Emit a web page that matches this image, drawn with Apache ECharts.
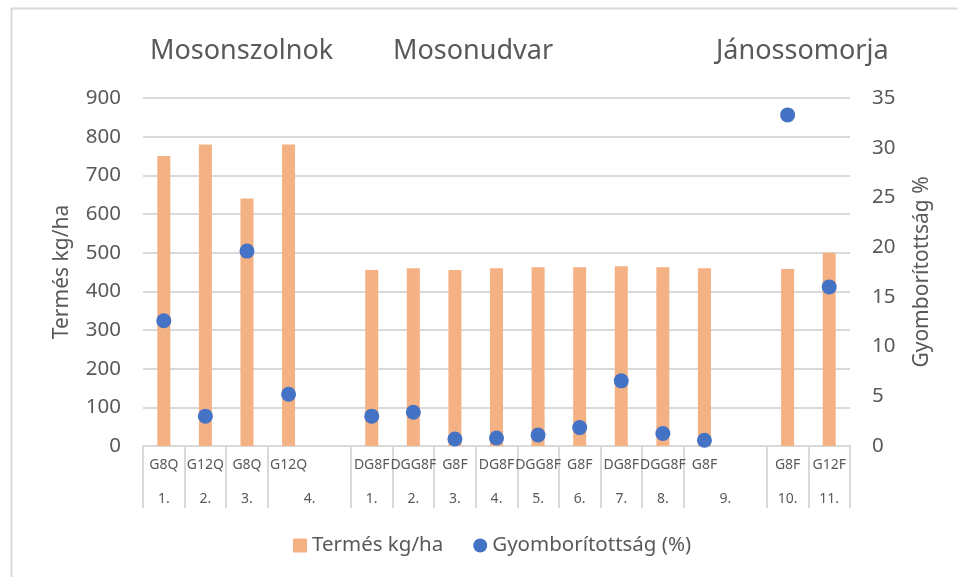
<!DOCTYPE html>
<html>
<head>
<meta charset="utf-8">
<script src="https://cdn.jsdelivr.net/npm/echarts@6/dist/echarts.min.js"></script>
<style>html,body{margin:0;padding:0;background:#fff}#c{width:958px;height:577px}</style>
</head>
<body>
<div id="c"></div>
<script>
const innerLabels = ['G8Q','G12Q','G8Q','G12Q','','DG8F','DGG8F','G8F','DG8F','DGG8F','G8F','DG8F','DGG8F','G8F','','G8F','G12F'];
const outerLabels = ['1.','2.','3.','4.','','1.','2.','3.','4.','5.','6.','7.','8.','9.','','10.','11.'];
const yieldValues = [750,780,640,780,null,455,460,455,460,462,462,465,462,460,null,458,500];
const weedValues = [12.6,3.0,19.6,5.2,null,3.0,3.4,0.7,0.8,1.1,1.85,6.55,1.25,0.58,null,33.3,16.0];
const regions = ['Mosonszolnok','Mosonudvar','Jánossomorja'];
const regionLeft = [150, 393, 716];
const spanningOuter = [3, 13];

const FONT = 'Noto Sans';
const GREY = '#595959';
const LINE = '#d9d9d9';

const chart = echarts.init(document.getElementById('c'), null, {renderer: 'canvas'});
chart.setOption({
  animation: false,
  textStyle: {fontFamily: FONT, color: GREY},
  graphic: [{type: 'rect', left: 9, top: 6, shape: {width: 960, height: 580}, style: {fill: 'none', stroke: LINE, lineWidth: 2}}],
  title: regions.map((r, i) => ({text: r, left: regionLeft[i], top: 38, padding: 0,
    textStyle: {fontFamily: FONT, fontSize: 27, fontWeight: 'normal', color: GREY}})),
  legend: {
    bottom: 16, left: 288, itemGap: 30, itemWidth: 14, itemHeight: 14,
    textStyle: {fontFamily: FONT, fontSize: 20.5, color: GREY},
    data: [{name: 'Termés kg/ha', icon: 'rect'}, {name: 'Gyomborítottság (%)', icon: 'circle'}]
  },
  grid: {left: 143, right: 108, top: 98, bottom: 131},
  xAxis: [{
    type: 'category', data: innerLabels, boundaryGap: true,
    axisLine: {show: true, lineStyle: {color: LINE, width: 2}},
    axisTick: {show: true, length: 62, lineStyle: {color: LINE, width: 2},
      interval: (idx) => innerLabels[idx] !== ''},
    axisLabel: {interval: 0, margin: 12, fontSize: 14, color: GREY, fontFamily: FONT, hideOverlap: false},
    splitLine: {show: false}
  }, {
    type: 'category', data: outerLabels, position: 'bottom', offset: 34, boundaryGap: true,
    axisLine: {show: false}, axisTick: {show: false}, splitLine: {show: false},
    axisLabel: {interval: 0, margin: 12, fontSize: 14, color: GREY, fontFamily: FONT, hideOverlap: false,
      formatter: (v, i) => spanningOuter.includes(i) ? '{s|' + v + '}' : v,
      rich: {s: {padding: [0, 0, 0, 42], fontSize: 14, color: GREY, fontFamily: FONT}}}
  }],
  yAxis: [{
    type: 'value', min: 0, max: 900, interval: 100,
    name: 'Termés kg/ha', nameLocation: 'middle', nameRotate: 90, nameGap: 70,
    nameTextStyle: {fontSize: 21, color: GREY, fontFamily: FONT},
    axisLine: {show: false}, axisTick: {show: false},
    axisLabel: {fontSize: 20.5, color: GREY, margin: 22, fontFamily: FONT},
    splitLine: {lineStyle: {color: LINE, width: 2}}
  }, {
    type: 'value', min: 0, max: 35, interval: 5, position: 'right',
    name: 'Gyomborítottság %', nameLocation: 'middle', nameRotate: 90, nameGap: 62,
    nameTextStyle: {fontSize: 21, color: GREY, fontFamily: FONT},
    axisLine: {show: false}, axisTick: {show: false},
    axisLabel: {fontSize: 20.5, color: GREY, margin: 22, fontFamily: FONT},
    splitLine: {show: false}
  }],
  series: [{
    name: 'Termés kg/ha', type: 'bar', xAxisIndex: 0, yAxisIndex: 0,
    data: yieldValues, barWidth: 13, itemStyle: {color: '#F4B183'}
  }, {
    name: 'Gyomborítottság (%)', type: 'scatter', xAxisIndex: 0, yAxisIndex: 1,
    data: weedValues.map((v, i) => [i, v]).filter(d => d[1] !== null),
    symbolSize: 15, itemStyle: {color: '#4472C4', opacity: 1}
  }]
});
</script>
</body>
</html>
